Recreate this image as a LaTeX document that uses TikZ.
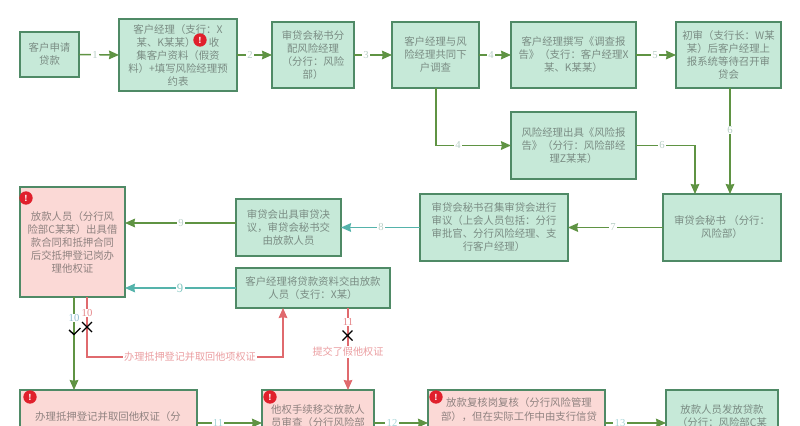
\documentclass[tikz,border=0pt]{standalone}
\usepackage{fontspec}
\setmainfont{Noto Sans CJK SC}
\newfontfamily\numfont{Liberation Serif}
\usetikzlibrary{arrows.meta}
\definecolor{gfill}{HTML}{C6E9D8}
\definecolor{rfill}{HTML}{FBD9D6}
\definecolor{bline}{HTML}{4F8A66}
\definecolor{gtext}{HTML}{7A8C83}
\definecolor{rtext}{HTML}{8F8280}
\definecolor{garrow}{HTML}{5F9343}
\definecolor{tarrow}{HTML}{55B3AB}
\definecolor{rarrow}{HTML}{E06A6E}
\definecolor{numgray}{HTML}{B8CFC6}
\definecolor{numteal}{HTML}{A6D6D8}
\definecolor{numblue}{HTML}{8FBBD0}
\definecolor{badge}{HTML}{E0202C}
\tikzset{
  x=0.75pt,y=-0.75pt,
  basebox/.style={draw=bline,line width=1.1pt,inner sep=0pt,outer sep=0pt,align=center,
    font=\fontsize{7.8}{9.75}\selectfont},
  gbox/.style={basebox,fill=gfill,text=gtext},
  rbox/.style={basebox,fill=rfill,text=rtext},
  rtxt/.style={inner sep=0pt,align=center,text=rtext,font=\fontsize{7.8}{10}\selectfont},
  gtxt/.style={inner sep=0pt,align=center,text=gtext,font=\fontsize{7.8}{9.75}\selectfont},
  garr/.style={draw=garrow,line width=1.1pt,-{Stealth[length=7.5pt,width=6.5pt,inset=0.6pt]}},
  tarr/.style={draw=tarrow,line width=1.1pt,-{Stealth[length=7.5pt,width=6.5pt,inset=0.6pt]}},
  rarr/.style={draw=rarrow,line width=1.1pt,-{Stealth[length=7.5pt,width=6.5pt,inset=0.6pt]}},
  lab/.style={fill=white,inner xsep=1pt,inner ysep=0pt,text=numgray,font=\numfont\fontsize{8}{8}\selectfont},
  labt/.style={lab,text=numteal},
  labb/.style={lab,text=numblue},
  labr/.style={lab,text=rarrow!80},
  labbig/.style={lab,text=tarrow!75,font=\numfont\fontsize{9.5}{9.5}\selectfont},
  rnote/.style={fill=white,inner xsep=1pt,inner ysep=1pt,text=rarrow!65,font=\fontsize{7.6}{8}\selectfont},
  warn/.style={circle,fill=badge,text=white,minimum size=10pt,inner sep=0pt,font=\bfseries\fontsize{6}{6}\selectfont},
  xmark/.style={draw=black,line width=1.05pt}
}
\newcommand\bx[7]{\node[#2,minimum width={(#5-#3)*0.75pt},minimum height={(#6-#4)*0.75pt}] (#1) at ({(#3+#5)/2},{(#4+#6)/2}) {#7};}
\begin{document}
\begin{tikzpicture}
\useasboundingbox (0,0) rectangle (800,425);
\clip (0,0) rectangle (800,425);
\bx{a}{gbox}{20}{32}{79}{77}{客户申请\\贷款}
\bx{b}{gbox}{119}{19}{237}{91}{客户经理（支行：X\\某、K某某）\hspace{1.3em}收\\集客户资料（假资\\料）+填写风险经理预\\约表}
\bx{c}{gbox}{272}{22}{354}{88}{审贷会秘书分\\配风险经理\\（分行：风险\\部）}
\bx{d}{gbox}{392}{22}{479}{88}{客户经理与风\\险经理共同下\\户调查}
\bx{e}{gbox}{511}{22}{636}{88}{客户经理撰写《调查报\\告》（支行：客户经理X\\某、K某某）}
\bx{f}{gbox}{676}{22}{781}{88}{初审（支行长：W某\\某）后客户经理上\\报系统等待召开审\\贷会}
\bx{g}{gbox}{511}{112}{636}{179}{风险经理出具《风险报\\告》（分行：风险部经\\理Z某某）}
\bx{h}{gbox}{663}{194}{781}{261}{审贷会秘书 （分行：\\风险部）}
\bx{i}{gbox}{420}{194}{568}{261}{审贷会秘书召集审贷会进行\\审议（上会人员包括：分行\\审批官、分行风险经理、支\\行客户经理）}
\bx{j}{gbox}{236}{199}{341}{256}{审贷会出具审贷决\\议，审贷会秘书交\\由放款人员}
\bx{k}{gbox}{236}{268}{390}{308}{客户经理将贷款资料交由放款\\人员（支行：X某）}
\bx{l}{rbox}{20}{187}{125}{297}{放款人员（分行风\\险部C某某）出具借\\款合同和抵押合同\\后交抵押登记岗办\\理他权证}
\bx{m}{rbox}{20}{390}{197}{470}{}
\bx{n}{rbox}{262}{390}{374}{470}{}
\bx{o}{rbox}{428}{390}{605}{470}{}
\bx{p}{gbox}{666}{390}{778}{470}{}
\node[rtxt,anchor=north] (mt) at (108,411) {办理抵押登记并取回他权证（分};
\node[rtxt,anchor=north] (nt) at (318,404) {他权手续移交放款人\\员审查（分行风险部};
\node[rtxt,anchor=north,font=\fontsize{7.8}{10.5}\selectfont] (ot) at (519,397) {放款复核岗复核（分行风险管理\\部），但在实际工作中由支行信贷};
\node[gtxt,anchor=north] (pt) at (722,404) {放款人员发放贷款\\（分行：风险部C某};
% helper coordinates
\coordinate (y423) at (0,423);
\coordinate (dd) at (436,88);
\coordinate (gg) at (695,145);
\coordinate (ff) at (730,88);
\coordinate (j9) at (236,223);
\coordinate (k9) at (236,288);
\coordinate (lg) at (74,297);
\coordinate (lr) at (87,297);
\coordinate (kr) at (283,308);
\coordinate (krb) at (348,308);
\coordinate (rcorner) at (87,357);
\coordinate (mtop) at (74,390);
\coordinate (ntop) at (348,390);
% connectors
\draw[garr] (a.east) -- (b.west);
\node[lab] (n1) at (95,55) {1};
\draw[garr] (b.east) -- (c.west);
\node[lab] (n2) at (250,55) {2};
\draw[garr] (c.east) -- (d.west);
\node[lab] (n3) at (366,55) {3};
\draw[garr] (d.east) -- (e.west);
\node[lab] (n4) at (491,55) {4};
\draw[garr] (e.east) -- (f.west);
\node[lab] (n5) at (655,55) {5};
\draw[garr] (dd) |- (g.west);
\node[lab] (n4b) at (458,145) {4};
\draw[garr] (g.east) -| (h.north -| gg);
\node[lab] (n6a) at (662,145) {6};
\draw[garr] (ff) -- (h.north -| ff);
\node[lab] (n6b) at (730,130) {6};
\draw[garr] (h.west) -- (i.east);
\node[lab] (n7) at (613,227) {7};
\draw[tarr] (i.west) -- (j.east);
\node[lab] (n8) at (381,227) {8};
\draw[garr] (j9) -- (l.east |- j9);
\node[lab] (n9a) at (181,223) {9};
\draw[tarr] (k9) -- (l.east |- k9);
\node[labbig] (n9b) at (180,288) {9};
\draw[garr] (lg) -- (mtop);
\node[labb] (n10a) at (74,318) {10};
\draw[rarr] (lr) -- (rcorner) -- (kr |- rcorner) -- (kr);
\node[labr] (n10b) at (87,313) {10};
\node[rnote] (t1) at (190,357) {办理抵押登记并取回他项权证};
\draw[rarr] (krb) -- (ntop);
\node[labr] (n11a) at (348,322) {11};
\node[rnote] (t2) at (348,352) {提交了假他权证};
\draw[garr] (m.east |- y423) -- (n.west |- y423);
\node[labt] (n11b) at (218,423) {11};
\draw[garr] (n.east |- y423) -- (o.west |- y423);
\node[labt] (n12) at (392,423) {12};
\draw[garr] (o.east |- y423) -- (p.west |- y423);
\node[labt] (n13) at (620,423) {13};
% marks
\draw[xmark] (69,330) -- (74,334.5) -- (80.5,328);
\draw[xmark] (82,322) -- (92,332) (92,322) -- (82,332);
\draw[xmark] (342.5,330.5) -- (352.5,340.5) (352.5,330.5) -- (342.5,340.5);
% warning badges
\node[warn] (w1) at (200,40) {!};
\node[warn] (w2) at (26,198) {!};
\node[warn] (w3) at (30,397) {!};
\node[warn] (w4) at (270,397) {!};
\node[warn] (w5) at (436,397) {!};
\end{tikzpicture}
\end{document}
